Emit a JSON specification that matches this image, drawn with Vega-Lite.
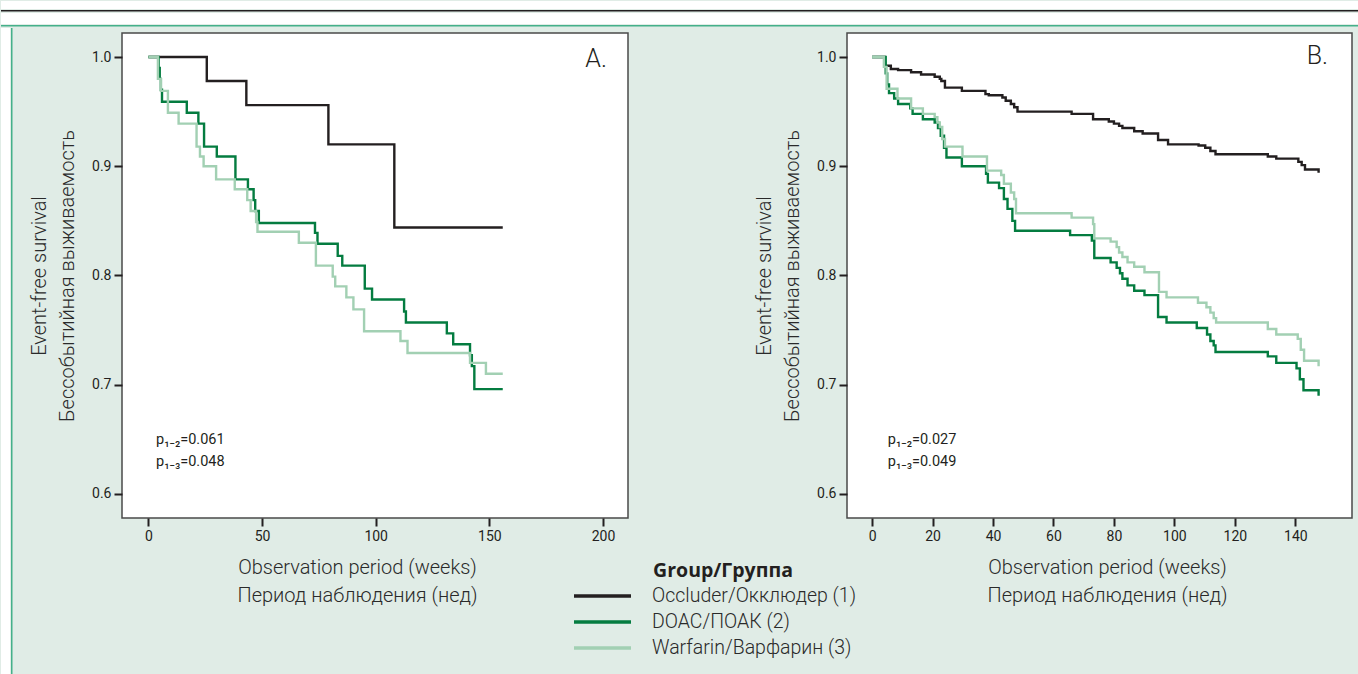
{
  "$schema": "https://vega.github.io/schema/vega-lite/v6.json",
  "background": "#e0ece6",
  "padding": 0,
  "spacing": 0,
  "config": {
    "font": "Roboto",
    "view": {"stroke": null},
    "axis": {
      "domain": false, "grid": false,
      "tickColor": "#231f20", "tickWidth": 2, "tickSize": 8,
      "labelFont": "Roboto", "labelFontSize": 14, "labelColor": "#231f20", "labelPadding": 3,
      "titleFont": "Roboto", "titleFontWeight": 300, "titleFontSize": 20, "titleColor": "#2a2a2a", "titleLineHeight": 28
    },
    "legend": {
      "orient": "none", "legendX": 590, "legendY": 561, "padding": 0,
      "symbolType": "M-3,0H3", "symbolSize": 361, "symbolStrokeWidth": 3.5,
      "labelFont": "Roboto", "labelFontWeight": 300, "labelFontSize": 19.5, "labelColor": "#2a2a2a", "labelOffset": 38, "labelLimit": 400,
      "titleFont": "Open Sans", "titleFontWeight": "bold", "titleFontSize": 19.5, "titleColor": "#231f20", "titleAnchor": "middle", "titleLimit": 400,
      "titlePadding": 3, "rowPadding": 5
    }
  },
  "datasets": {
    "A": [
      {"g": "Occluder/Окклюдер (1)", "w": 0, "s": 1.0},
      {"g": "Occluder/Окклюдер (1)", "w": 25.7, "s": 0.978},
      {"g": "Occluder/Окклюдер (1)", "w": 43.1, "s": 0.956},
      {"g": "Occluder/Окклюдер (1)", "w": 79.2, "s": 0.920},
      {"g": "Occluder/Окклюдер (1)", "w": 108.2, "s": 0.844},
      {"g": "Occluder/Окклюдер (1)", "w": 155.9, "s": 0.844},
      {"g": "DOAC/ПОАК (2)", "w": 0, "s": 1.0},
      {"g": "DOAC/ПОАК (2)", "w": 4.5, "s": 0.99},
      {"g": "DOAC/ПОАК (2)", "w": 5.0, "s": 0.98},
      {"g": "DOAC/ПОАК (2)", "w": 5.5, "s": 0.97},
      {"g": "DOAC/ПОАК (2)", "w": 6.0, "s": 0.959},
      {"g": "DOAC/ПОАК (2)", "w": 16.9, "s": 0.949},
      {"g": "DOAC/ПОАК (2)", "w": 22.0, "s": 0.939},
      {"g": "DOAC/ПОАК (2)", "w": 24.5, "s": 0.918},
      {"g": "DOAC/ПОАК (2)", "w": 30.1, "s": 0.909},
      {"g": "DOAC/ПОАК (2)", "w": 38.3, "s": 0.888},
      {"g": "DOAC/ПОАК (2)", "w": 43.8, "s": 0.879},
      {"g": "DOAC/ПОАК (2)", "w": 46.3, "s": 0.869},
      {"g": "DOAC/ПОАК (2)", "w": 47.0, "s": 0.859},
      {"g": "DOAC/ПОАК (2)", "w": 48.6, "s": 0.848},
      {"g": "DOAC/ПОАК (2)", "w": 73.3, "s": 0.839},
      {"g": "DOAC/ПОАК (2)", "w": 74.4, "s": 0.829},
      {"g": "DOAC/ПОАК (2)", "w": 83.3, "s": 0.818},
      {"g": "DOAC/ПОАК (2)", "w": 85.3, "s": 0.809},
      {"g": "DOAC/ПОАК (2)", "w": 95.2, "s": 0.788},
      {"g": "DOAC/ПОАК (2)", "w": 98.4, "s": 0.778},
      {"g": "DOAC/ПОАК (2)", "w": 112.5, "s": 0.767},
      {"g": "DOAC/ПОАК (2)", "w": 113.3, "s": 0.757},
      {"g": "DOAC/ПОАК (2)", "w": 131.3, "s": 0.747},
      {"g": "DOAC/ПОАК (2)", "w": 134.1, "s": 0.737},
      {"g": "DOAC/ПОАК (2)", "w": 141.5, "s": 0.727},
      {"g": "DOAC/ПОАК (2)", "w": 142.3, "s": 0.717},
      {"g": "DOAC/ПОАК (2)", "w": 143.4, "s": 0.696},
      {"g": "DOAC/ПОАК (2)", "w": 155.9, "s": 0.696},
      {"g": "Warfarin/Варфарин (3)", "w": 0, "s": 1.0},
      {"g": "Warfarin/Варфарин (3)", "w": 4.2, "s": 0.980},
      {"g": "Warfarin/Варфарин (3)", "w": 5.5, "s": 0.969},
      {"g": "Warfarin/Варфарин (3)", "w": 8.6, "s": 0.949},
      {"g": "Warfarin/Варфарин (3)", "w": 13.3, "s": 0.939},
      {"g": "Warfarin/Варфарин (3)", "w": 21.2, "s": 0.918},
      {"g": "Warfarin/Варфарин (3)", "w": 22.7, "s": 0.909},
      {"g": "Warfarin/Варфарин (3)", "w": 24.3, "s": 0.900},
      {"g": "Warfarin/Варфарин (3)", "w": 29.8, "s": 0.888},
      {"g": "Warfarin/Варфарин (3)", "w": 38.0, "s": 0.879},
      {"g": "Warfarin/Варфарин (3)", "w": 43.5, "s": 0.869},
      {"g": "Warfarin/Варфарин (3)", "w": 45.0, "s": 0.859},
      {"g": "Warfarin/Варфарин (3)", "w": 47.4, "s": 0.849},
      {"g": "Warfarin/Варфарин (3)", "w": 48.0, "s": 0.840},
      {"g": "Warfarin/Варфарин (3)", "w": 66.2, "s": 0.830},
      {"g": "Warfarin/Варфарин (3)", "w": 73.7, "s": 0.809},
      {"g": "Warfarin/Варфарин (3)", "w": 81.1, "s": 0.799},
      {"g": "Warfarin/Варфарин (3)", "w": 82.2, "s": 0.790},
      {"g": "Warfarin/Варфарин (3)", "w": 87.1, "s": 0.780},
      {"g": "Warfarin/Варфарин (3)", "w": 90.2, "s": 0.769},
      {"g": "Warfarin/Варфарин (3)", "w": 94.9, "s": 0.749},
      {"g": "Warfarin/Варфарин (3)", "w": 110.9, "s": 0.740},
      {"g": "Warfarin/Варфарин (3)", "w": 114.0, "s": 0.729},
      {"g": "Warfarin/Варфарин (3)", "w": 141.5, "s": 0.720},
      {"g": "Warfarin/Варфарин (3)", "w": 148.5, "s": 0.710},
      {"g": "Warfarin/Варфарин (3)", "w": 155.9, "s": 0.710}
    ],
    "B": [
      {"g": "Occluder/Окклюдер (1)", "w": 0, "s": 1.0},
      {"g": "Occluder/Окклюдер (1)", "w": 4.2, "s": 0.995},
      {"g": "Occluder/Окклюдер (1)", "w": 4.3, "s": 0.992},
      {"g": "Occluder/Окклюдер (1)", "w": 6.2, "s": 0.989},
      {"g": "Occluder/Окклюдер (1)", "w": 8.6, "s": 0.988},
      {"g": "Occluder/Окклюдер (1)", "w": 12.9, "s": 0.986},
      {"g": "Occluder/Окклюдер (1)", "w": 16.2, "s": 0.984},
      {"g": "Occluder/Окклюдер (1)", "w": 20.7, "s": 0.982},
      {"g": "Occluder/Окклюдер (1)", "w": 22.4, "s": 0.980},
      {"g": "Occluder/Окклюдер (1)", "w": 22.9, "s": 0.978},
      {"g": "Occluder/Окклюдер (1)", "w": 24.1, "s": 0.972},
      {"g": "Occluder/Окклюдер (1)", "w": 29.7, "s": 0.969},
      {"g": "Occluder/Окклюдер (1)", "w": 37.5, "s": 0.966},
      {"g": "Occluder/Окклюдер (1)", "w": 38.6, "s": 0.965},
      {"g": "Occluder/Окклюдер (1)", "w": 43.1, "s": 0.963},
      {"g": "Occluder/Окклюдер (1)", "w": 44.2, "s": 0.960},
      {"g": "Occluder/Окклюдер (1)", "w": 45.9, "s": 0.957},
      {"g": "Occluder/Окклюдер (1)", "w": 47.0, "s": 0.954},
      {"g": "Occluder/Окклюдер (1)", "w": 48.1, "s": 0.950},
      {"g": "Occluder/Окклюдер (1)", "w": 66.0, "s": 0.948},
      {"g": "Occluder/Окклюдер (1)", "w": 73.1, "s": 0.943},
      {"g": "Occluder/Окклюдер (1)", "w": 78.3, "s": 0.941},
      {"g": "Occluder/Окклюдер (1)", "w": 80.0, "s": 0.939},
      {"g": "Occluder/Окклюдер (1)", "w": 81.7, "s": 0.937},
      {"g": "Occluder/Окклюдер (1)", "w": 82.8, "s": 0.935},
      {"g": "Occluder/Окклюдер (1)", "w": 86.7, "s": 0.932},
      {"g": "Occluder/Окклюдер (1)", "w": 89.5, "s": 0.930},
      {"g": "Occluder/Окклюдер (1)", "w": 94.6, "s": 0.924},
      {"g": "Occluder/Окклюдер (1)", "w": 97.9, "s": 0.920},
      {"g": "Occluder/Окклюдер (1)", "w": 108.0, "s": 0.919},
      {"g": "Occluder/Окклюдер (1)", "w": 110.2, "s": 0.917},
      {"g": "Occluder/Окклюдер (1)", "w": 111.9, "s": 0.914},
      {"g": "Occluder/Окклюдер (1)", "w": 113.6, "s": 0.911},
      {"g": "Occluder/Окклюдер (1)", "w": 130.9, "s": 0.909},
      {"g": "Occluder/Окклюдер (1)", "w": 133.7, "s": 0.907},
      {"g": "Occluder/Окклюдер (1)", "w": 141.0, "s": 0.904},
      {"g": "Occluder/Окклюдер (1)", "w": 142.1, "s": 0.901},
      {"g": "Occluder/Окклюдер (1)", "w": 143.2, "s": 0.897},
      {"g": "Occluder/Окклюдер (1)", "w": 147.7, "s": 0.894},
      {"g": "DOAC/ПОАК (2)", "w": 0, "s": 1.0},
      {"g": "DOAC/ПОАК (2)", "w": 4.5, "s": 0.985},
      {"g": "DOAC/ПОАК (2)", "w": 5.0, "s": 0.975},
      {"g": "DOAC/ПОАК (2)", "w": 5.6, "s": 0.967},
      {"g": "DOAC/ПОАК (2)", "w": 7.3, "s": 0.962},
      {"g": "DOAC/ПОАК (2)", "w": 8.6, "s": 0.957},
      {"g": "DOAC/ПОАК (2)", "w": 12.6, "s": 0.953},
      {"g": "DOAC/ПОАК (2)", "w": 13.4, "s": 0.948},
      {"g": "DOAC/ПОАК (2)", "w": 16.8, "s": 0.943},
      {"g": "DOAC/ПОАК (2)", "w": 20.7, "s": 0.940},
      {"g": "DOAC/ПОАК (2)", "w": 21.8, "s": 0.935},
      {"g": "DOAC/ПОАК (2)", "w": 22.7, "s": 0.928},
      {"g": "DOAC/ПОАК (2)", "w": 23.8, "s": 0.917},
      {"g": "DOAC/ПОАК (2)", "w": 24.6, "s": 0.908},
      {"g": "DOAC/ПОАК (2)", "w": 29.7, "s": 0.900},
      {"g": "DOAC/ПОАК (2)", "w": 37.7, "s": 0.893},
      {"g": "DOAC/ПОАК (2)", "w": 38.3, "s": 0.885},
      {"g": "DOAC/ПОАК (2)", "w": 42.0, "s": 0.880},
      {"g": "DOAC/ПОАК (2)", "w": 43.6, "s": 0.870},
      {"g": "DOAC/ПОАК (2)", "w": 44.8, "s": 0.861},
      {"g": "DOAC/ПОАК (2)", "w": 46.4, "s": 0.850},
      {"g": "DOAC/ПОАК (2)", "w": 47.3, "s": 0.841},
      {"g": "DOAC/ПОАК (2)", "w": 65.5, "s": 0.837},
      {"g": "DOAC/ПОАК (2)", "w": 72.7, "s": 0.832},
      {"g": "DOAC/ПОАК (2)", "w": 73.5, "s": 0.816},
      {"g": "DOAC/ПОАК (2)", "w": 78.9, "s": 0.812},
      {"g": "DOAC/ПОАК (2)", "w": 80.9, "s": 0.807},
      {"g": "DOAC/ПОАК (2)", "w": 82.0, "s": 0.802},
      {"g": "DOAC/ПОАК (2)", "w": 82.8, "s": 0.797},
      {"g": "DOAC/ПОАК (2)", "w": 84.5, "s": 0.791},
      {"g": "DOAC/ПОАК (2)", "w": 86.7, "s": 0.786},
      {"g": "DOAC/ПОАК (2)", "w": 90.1, "s": 0.782},
      {"g": "DOAC/ПОАК (2)", "w": 94.6, "s": 0.762},
      {"g": "DOAC/ПОАК (2)", "w": 97.4, "s": 0.757},
      {"g": "DOAC/ПОАК (2)", "w": 107.4, "s": 0.752},
      {"g": "DOAC/ПОАК (2)", "w": 110.8, "s": 0.746},
      {"g": "DOAC/ПОАК (2)", "w": 111.9, "s": 0.740},
      {"g": "DOAC/ПОАК (2)", "w": 113.0, "s": 0.736},
      {"g": "DOAC/ПОАК (2)", "w": 113.6, "s": 0.730},
      {"g": "DOAC/ПОАК (2)", "w": 130.9, "s": 0.726},
      {"g": "DOAC/ПОАК (2)", "w": 133.7, "s": 0.720},
      {"g": "DOAC/ПОАК (2)", "w": 140.4, "s": 0.715},
      {"g": "DOAC/ПОАК (2)", "w": 141.5, "s": 0.705},
      {"g": "DOAC/ПОАК (2)", "w": 142.7, "s": 0.695},
      {"g": "DOAC/ПОАК (2)", "w": 147.7, "s": 0.690},
      {"g": "Warfarin/Варфарин (3)", "w": 0, "s": 1.0},
      {"g": "Warfarin/Варфарин (3)", "w": 3.9, "s": 0.991},
      {"g": "Warfarin/Варфарин (3)", "w": 4.8, "s": 0.971},
      {"g": "Warfarin/Варфарин (3)", "w": 8.4, "s": 0.962},
      {"g": "Warfarin/Варфарин (3)", "w": 12.9, "s": 0.953},
      {"g": "Warfarin/Варфарин (3)", "w": 16.8, "s": 0.948},
      {"g": "Warfarin/Варфарин (3)", "w": 20.7, "s": 0.945},
      {"g": "Warfarin/Варфарин (3)", "w": 21.6, "s": 0.940},
      {"g": "Warfarin/Варфарин (3)", "w": 22.4, "s": 0.936},
      {"g": "Warfarin/Варфарин (3)", "w": 23.2, "s": 0.925},
      {"g": "Warfarin/Варфарин (3)", "w": 24.1, "s": 0.918},
      {"g": "Warfarin/Варфарин (3)", "w": 29.9, "s": 0.909},
      {"g": "Warfarin/Варфарин (3)", "w": 38.0, "s": 0.896},
      {"g": "Warfarin/Варфарин (3)", "w": 42.7, "s": 0.892},
      {"g": "Warfarin/Варфарин (3)", "w": 43.6, "s": 0.884},
      {"g": "Warfarin/Варфарин (3)", "w": 45.9, "s": 0.876},
      {"g": "Warfarin/Варфарин (3)", "w": 47.0, "s": 0.870},
      {"g": "Warfarin/Варфарин (3)", "w": 47.6, "s": 0.857},
      {"g": "Warfarin/Варфарин (3)", "w": 66.0, "s": 0.853},
      {"g": "Warfarin/Варфарин (3)", "w": 73.1, "s": 0.847},
      {"g": "Warfarin/Варфарин (3)", "w": 73.5, "s": 0.834},
      {"g": "Warfarin/Варфарин (3)", "w": 78.9, "s": 0.831},
      {"g": "Warfarin/Варфарин (3)", "w": 80.9, "s": 0.826},
      {"g": "Warfarin/Варфарин (3)", "w": 81.7, "s": 0.821},
      {"g": "Warfarin/Варфарин (3)", "w": 82.8, "s": 0.817},
      {"g": "Warfarin/Варфарин (3)", "w": 84.5, "s": 0.812},
      {"g": "Warfarin/Варфарин (3)", "w": 86.7, "s": 0.808},
      {"g": "Warfarin/Варфарин (3)", "w": 90.1, "s": 0.803},
      {"g": "Warfarin/Варфарин (3)", "w": 94.9, "s": 0.785},
      {"g": "Warfarin/Варфарин (3)", "w": 97.4, "s": 0.780},
      {"g": "Warfarin/Варфарин (3)", "w": 107.8, "s": 0.775},
      {"g": "Warfarin/Варфарин (3)", "w": 110.6, "s": 0.771},
      {"g": "Warfarin/Варфарин (3)", "w": 111.9, "s": 0.766},
      {"g": "Warfarin/Варфарин (3)", "w": 113.0, "s": 0.761},
      {"g": "Warfarin/Варфарин (3)", "w": 113.8, "s": 0.757},
      {"g": "Warfarin/Варфарин (3)", "w": 130.9, "s": 0.751},
      {"g": "Warfarin/Варфарин (3)", "w": 133.7, "s": 0.746},
      {"g": "Warfarin/Варфарин (3)", "w": 140.8, "s": 0.742},
      {"g": "Warfarin/Варфарин (3)", "w": 141.8, "s": 0.732},
      {"g": "Warfarin/Варфарин (3)", "w": 142.9, "s": 0.722},
      {"g": "Warfarin/Варфарин (3)", "w": 147.7, "s": 0.717}
    ],
    "one": [{}]
  },
  "vconcat": [
    {"width": 1358, "height": 8, "view": {"fill": "#ffffff", "stroke": null}, "data": {"name": "one"}, "mark": {"type": "rule", "opacity": 0}, "encoding": {}},
    {"width": 1358, "height": 1.5, "view": {"fill": "#231f20", "stroke": null}, "data": {"name": "one"}, "mark": {"type": "rule", "opacity": 0}, "encoding": {}},
    {"width": 1358, "height": 11, "view": {"fill": "#ffffff", "stroke": null}, "data": {"name": "one"}, "mark": {"type": "rule", "opacity": 0}, "encoding": {}},
    {"width": 1358, "height": 1.5, "view": {"fill": "#45b08a", "stroke": null}, "data": {"name": "one"}, "mark": {"type": "rule", "opacity": 0}, "encoding": {}},
    {
      "spacing": 15,
      "hconcat": [
        {
          "spacing": 0,
          "hconcat": [
            {"width": 9, "height": 652, "view": {"fill": "#ffffff", "stroke": null}, "data": {"name": "one"}, "mark": {"type": "rule", "opacity": 0}, "encoding": {}},
            {"width": 1.5, "height": 652, "view": {"fill": "#45b08a", "stroke": null}, "data": {"name": "one"}, "mark": {"type": "rule", "opacity": 0}, "encoding": {}}
          ]
        },
        {
          "spacing": 0,
          "vconcat": [
            {"width": 10, "height": 4, "data": {"name": "one"}, "mark": {"type": "rule", "opacity": 0}, "encoding": {}},
            {
              "spacing": 219,
              "bounds": "flush",
              "hconcat": [
                {
                  "width": 506, "height": 485,
                  "view": {"fill": "#ffffff", "stroke": "#4a4a4a", "strokeWidth": 1.5},
                  "layer": [
                    {
                      "data": {"name": "A"},
                      "mark": {"type": "line", "interpolate": "step-after", "strokeWidth": 2.4},
                      "encoding": {
                        "x": {"field": "w", "type": "quantitative",
                          "scale": {"domain": [-11.6, 211], "nice": false, "zero": false},
                          "axis": {"values": [0, 50, 100, 150, 200], "title": ["Observation period (weeks)", "Период наблюдения (нед)"], "titleX": 235, "titleAlign": "center", "titlePadding": 14}},
                        "y": {"field": "s", "type": "quantitative",
                          "scale": {"domain": [0.578, 1.022], "nice": false, "zero": false},
                          "axis": {"values": [0.6, 0.7, 0.8, 0.9, 1.0], "format": ".1f", "title": ["Event-free survival", "Бессобытийная выживаемость"], "titlePadding": 14}},
                        "color": {"field": "g", "type": "nominal", "title": "Group/Группа",
                          "scale": {"domain": ["Occluder/Окклюдер (1)", "DOAC/ПОАК (2)", "Warfarin/Варфарин (3)"], "range": ["#231f20", "#047c40", "#a2d0b3"]}}
                      }
                    },
                    {"data": {"name": "one"}, "mark": {"type": "text", "text": "A.", "align": "right", "baseline": "middle", "fontSize": 25, "fontWeight": 300, "color": "#231f20"},
                      "encoding": {"x": {"datum": 201.7}, "y": {"datum": 0.998}}},
                    {"data": {"name": "one"}, "mark": {"type": "text", "text": "p₁₋₂=0.061", "align": "left", "baseline": "middle", "fontSize": 14.5, "color": "#231f20"},
                      "encoding": {"x": {"datum": 3.4}, "y": {"datum": 0.649}}},
                    {"data": {"name": "one"}, "mark": {"type": "text", "text": "p₁₋₃=0.048", "align": "left", "baseline": "middle", "fontSize": 14.5, "color": "#231f20"},
                      "encoding": {"x": {"datum": 3.4}, "y": {"datum": 0.629}}}
                  ]
                },
                {
                  "width": 505, "height": 485,
                  "view": {"fill": "#ffffff", "stroke": "#4a4a4a", "strokeWidth": 1.5},
                  "layer": [
                    {
                      "data": {"name": "B"},
                      "mark": {"type": "line", "interpolate": "step-after", "strokeWidth": 2.4},
                      "encoding": {
                        "x": {"field": "w", "type": "quantitative",
                          "scale": {"domain": [-8.3, 158.75], "nice": false, "zero": false},
                          "axis": {"values": [0, 20, 40, 60, 80, 100, 120, 140], "title": ["Observation period (weeks)", "Период наблюдения (нед)"], "titleX": 260, "titleAlign": "center", "titlePadding": 14}},
                        "y": {"field": "s", "type": "quantitative",
                          "scale": {"domain": [0.578, 1.022], "nice": false, "zero": false},
                          "axis": {"values": [0.6, 0.7, 0.8, 0.9, 1.0], "format": ".1f", "title": ["Event-free survival", "Бессобытийная выживаемость"], "titlePadding": 14}},
                        "color": {"field": "g", "type": "nominal", "title": "Group/Группа",
                          "scale": {"domain": ["Occluder/Окклюдер (1)", "DOAC/ПОАК (2)", "Warfarin/Варфарин (3)"], "range": ["#231f20", "#047c40", "#a2d0b3"]}}
                      }
                    },
                    {"data": {"name": "one"}, "mark": {"type": "text", "text": "B.", "align": "right", "baseline": "middle", "fontSize": 25, "fontWeight": 300, "color": "#231f20"},
                      "encoding": {"x": {"datum": 150.8}, "y": {"datum": 1.001}}},
                    {"data": {"name": "one"}, "mark": {"type": "text", "text": "p₁₋₂=0.027", "align": "left", "baseline": "middle", "fontSize": 14.5, "color": "#231f20"},
                      "encoding": {"x": {"datum": 5.2}, "y": {"datum": 0.649}}},
                    {"data": {"name": "one"}, "mark": {"type": "text", "text": "p₁₋₃=0.049", "align": "left", "baseline": "middle", "fontSize": 14.5, "color": "#231f20"},
                      "encoding": {"x": {"datum": 5.2}, "y": {"datum": 0.629}}}
                  ]
                }
              ]
            }
          ]
        }
      ]
    }
  ]
}
